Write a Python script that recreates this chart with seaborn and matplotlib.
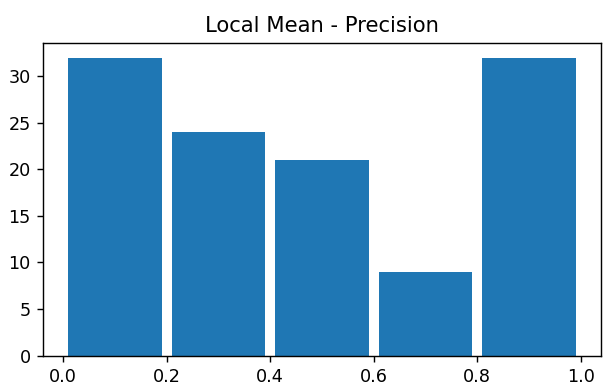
import numpy as np
import matplotlib.pyplot as plt
import seaborn as sns

# 直方图数据：区间边界与每个区间的计数
bin_edges = [0.0, 0.2, 0.4, 0.6, 0.8, 1.0]
bin_counts = [32, 24, 21, 9, 32]
bin_centers = [(a + b) / 2 for a, b in zip(bin_edges[:-1], bin_edges[1:])]

dpi = 127
fig, ax = plt.subplots(figsize=(603 / dpi, 386 / dpi), dpi=dpi)
fig.subplots_adjust(left=0.0713, right=0.9967, top=0.8886, bottom=0.079)

sns.histplot(x=bin_centers, weights=bin_counts, bins=bin_edges, shrink=0.9,
             color='#1f77b4', alpha=1, linewidth=0, ax=ax)
ax.set_ylabel('')
ax.set_xticks([0.0, 0.2, 0.4, 0.6, 0.8, 1.0])
ax.set_title('Local Mean - Precision')

plt.savefig('out.png', dpi=dpi)
